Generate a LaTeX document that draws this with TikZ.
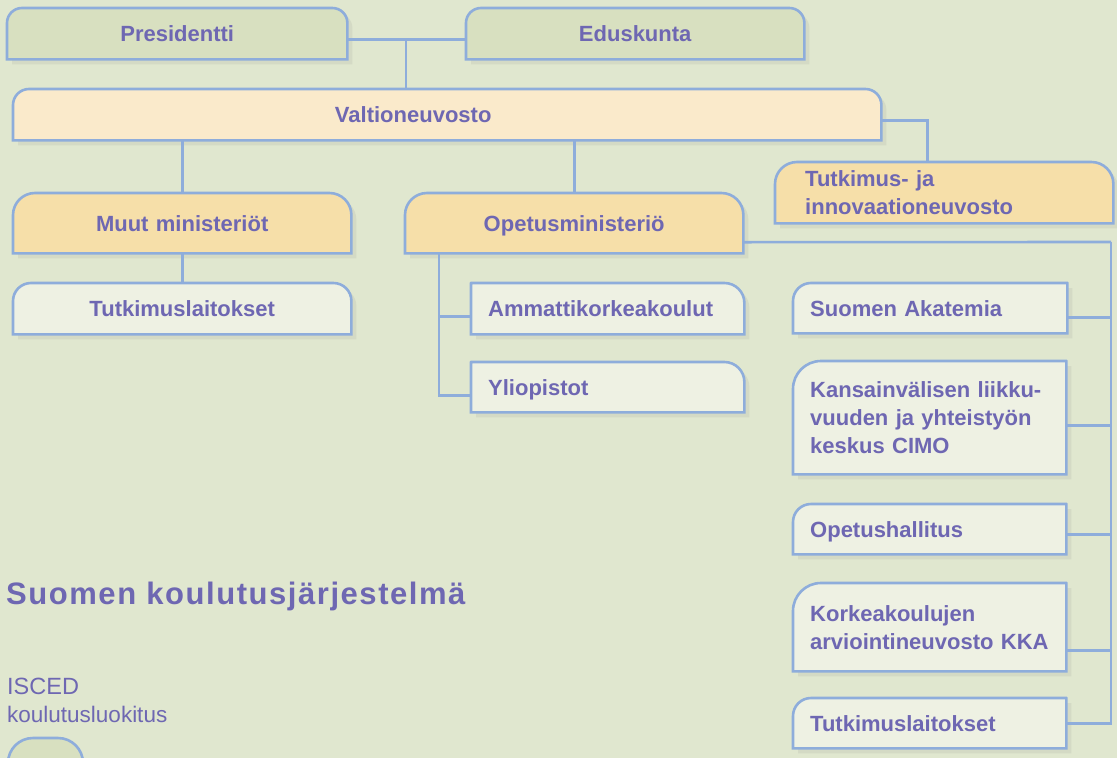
\documentclass[tikz,border=0pt]{standalone}
\usepackage{fontspec}
\setmainfont{Liberation Sans}
\usetikzlibrary{shadows}

\definecolor{bgcol}{HTML}{E0E7CF}
\definecolor{lineblue}{HTML}{8EADDB}
\definecolor{txtpurple}{HTML}{6E67B2}
\definecolor{govgreen}{HTML}{D8E0C0}
\definecolor{cabcream}{HTML}{FAEACB}
\definecolor{minorange}{HTML}{F6DFA9}
\definecolor{unitpale}{HTML}{EEF1E3}

\pgfdeclarelayer{background}
\pgfsetlayers{background,main}

\tikzset{
  boxtext/.style={font=\bfseries\fontsize{22}{28}\selectfont, text=txtpurple, anchor=north west, inner ysep=0pt},
  midtext/.style={boxtext, align=center, inner xsep=0pt},
  lefttext/.style={boxtext, align=left, inner xsep=17pt},
  oneline/.style={text height=16pt, text depth=0pt},
  conn/.style={draw=lineblue, line width=2.6pt},
  boxline/.style={draw=lineblue, line width=2.6pt},
}

% box with rounded top corners: node, fill, left radius, right radius
\newcommand{\tabbox}[4]{%
  \path[boxline, fill=#2, drop shadow={opacity=0.12, shadow xshift=5pt, shadow yshift=-5pt}]
    (#1.south west) -- ([yshift=-#3pt]#1.north west)
    arc[start angle=180, end angle=90, radius=#3pt]
    -- ([xshift=-#4pt]#1.north east)
    arc[start angle=90, end angle=0, radius=#4pt]
    -- (#1.south east) -- cycle;}

\begin{document}
\begin{tikzpicture}[x=1pt, y=-1pt]
\useasboundingbox (0,0) rectangle (1117,758);

% government
\node[midtext, oneline, text width=340, minimum height=51] (pres) at (7,8) {Presidentti};
\node[midtext, oneline, text width=338, minimum height=51] (edus) at (466,8) {Eduskunta};
\node[midtext, oneline, text width=868, minimum height=51] (valt) at (13,89) {Valtioneuvosto\hspace*{68pt}};
\node[lefttext, text width=278, inner xsep=30pt, minimum height=61] (tinno) at (775,162) {Tutkimus- ja\\innovaationeuvosto};

% ministries
\node[midtext, oneline, text width=338, minimum height=60] (muut) at (13,193) {Muut ministeriöt};
\node[midtext, oneline, text width=338, minimum height=51] (tutkl) at (13,283) {Tutkimuslaitokset};
\node[midtext, oneline, text width=338, minimum height=60] (opm) at (405,193) {Opetusministeriö};
\node[lefttext, oneline, text width=239, minimum height=51] (amk) at (471,283) {Ammattikorkeakoulut};
\node[lefttext, oneline, text width=239, minimum height=50] (yo) at (471,362) {Yliopistot};

% agencies
\node[lefttext, oneline, text width=240, minimum height=50] (akat) at (793,283) {Suomen Akatemia};
\node[lefttext, text width=239, minimum height=113] (cimo) at (793,361) {Kansainvälisen liikku-\\vuuden ja yhteistyön\\keskus CIMO};
\node[lefttext, oneline, text width=239, minimum height=50] (oph) at (793,504) {Opetushallitus};
\node[lefttext, text width=239, minimum height=88] (kka) at (793,583) {Korkeakoulujen\\arviointineuvosto KKA};
\node[lefttext, oneline, text width=239, minimum height=50] (tutkr) at (793,698) {Tutkimuslaitokset};

% legend
\node[anchor=base west, inner sep=0pt, text=txtpurple, font=\bfseries\fontsize{31}{36}\selectfont\addfontfeature{LetterSpace=5}] (title) at (6,604) {Suomen koulutusjärjestelmä};
\node[anchor=base west, inner sep=0pt, text=txtpurple, font=\fontsize{23.5}{28}\selectfont] (isced) at (7,694) {ISCED};
\node[anchor=base west, inner sep=0pt, text=txtpurple, font=\fontsize{22.5}{28}\selectfont] (luok) at (7,722) {koulutusluokitus};

% connectors
\draw[conn] ([yshift=-6pt]pres.east) -- ([yshift=-6pt]edus.west);
\coordinate (govjoin) at (406,40);
\draw[conn] (govjoin) -- (govjoin |- valt.north);
\draw[conn] (muut.north) -- (muut.north |- valt.south);
\draw[conn] (opm.north) -- (opm.north |- valt.south);
\draw[conn] (muut.south) -- (tutkl.north);
\draw[conn] ([yshift=-6pt]valt.east) -| ([xshift=-17pt]tinno.north);
\coordinate (opmfork) at ([xshift=34pt]opm.south west);
\draw[conn] (opmfork) |- ([yshift=-8pt]amk.west);
\draw[conn] (opmfork) |- ([yshift=-8pt]yo.west);
\coordinate (rail) at (1111,242);
\draw[conn] ([yshift=-19pt]opm.east) -- (rail);
\foreach \unit/\dy in {akat/-9, cimo/-8, oph/-5, kka/-23, tutkr/0}
  \draw[conn] ([yshift=\dy pt]\unit.east) -| (rail);

\begin{pgfonlayer}{background}
  \fill[bgcol] (0,0) rectangle (1117,758);
  \tabbox{pres}{govgreen}{15}{15}
  \tabbox{edus}{govgreen}{15}{15}
  \tabbox{valt}{cabcream}{16}{16}
  \tabbox{tinno}{minorange}{22}{22}
  \tabbox{muut}{minorange}{22}{22}
  \tabbox{opm}{minorange}{22}{22}
  \tabbox{tutkl}{unitpale}{18}{18}
  \tabbox{amk}{unitpale}{0.1}{20}
  \tabbox{yo}{unitpale}{0.1}{20}
  \tabbox{akat}{unitpale}{18}{0.1}
  \tabbox{cimo}{unitpale}{28}{0.1}
  \tabbox{oph}{unitpale}{18}{0.1}
  \tabbox{kka}{unitpale}{28}{0.1}
  \tabbox{tutkr}{unitpale}{18}{0.1}
  % level tab at the bottom edge
  \begin{scope}
    \clip (0,0) rectangle (1117,758);
    \draw[boxline, fill=govgreen] (8,775) -- (8,763) arc[start angle=180, end angle=90, radius=25pt]
      -- (58,738) arc[start angle=90, end angle=0, radius=25pt] -- (83,775);
  \end{scope}
\end{pgfonlayer}
\end{tikzpicture}
\end{document}
